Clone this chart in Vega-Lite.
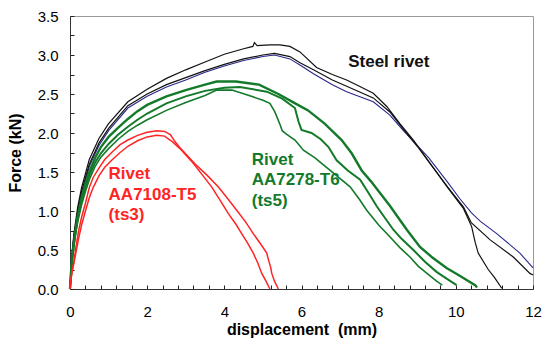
{
"$schema":"https://vega.github.io/schema/vega-lite/v6.json",
"width":463,"height":273,
"autosize":{"type":"none"},
"padding":{"left":70,"top":16,"right":17,"bottom":57},
"config":{"view":{"stroke":"#999999","strokeWidth":1},"font":"Liberation Sans",
"axis":{"grid":false,"domainColor":"#333333","tickColor":"#222222","tickWidth":1,"labelColor":"#000000","labelFont":"Liberation Sans","labelFontSize":15,"titleFont":"Liberation Sans","titleFontSize":16,"titleFontWeight":"bold","titleColor":"#000000","labelFlush":false,"labelOverlap":false}},
"datasets":{
"curves":[
{"c":"R1","g":"red","x":0,"y":0},{"c":"R1","g":"red","x":0.03,"y":0.14},{"c":"R1","g":"red","x":0.06,"y":0.24},{"c":"R1","g":"red","x":0.1,"y":0.33},{"c":"R1","g":"red","x":0.15,"y":0.46},{"c":"R1","g":"red","x":0.22,"y":0.64},{"c":"R1","g":"red","x":0.3,"y":0.82},{"c":"R1","g":"red","x":0.4,"y":1.0},{"c":"R1","g":"red","x":0.5,"y":1.17},{"c":"R1","g":"red","x":0.6,"y":1.3},{"c":"R1","g":"red","x":0.75,"y":1.45},{"c":"R1","g":"red","x":0.9,"y":1.56},{"c":"R1","g":"red","x":1.1,"y":1.66},{"c":"R1","g":"red","x":1.3,"y":1.75},{"c":"R1","g":"red","x":1.5,"y":1.83},{"c":"R1","g":"red","x":1.75,"y":1.9},{"c":"R1","g":"red","x":2.0,"y":1.95},{"c":"R1","g":"red","x":2.25,"y":1.97},{"c":"R1","g":"red","x":2.45,"y":1.96},{"c":"R1","g":"red","x":2.65,"y":1.89},{"c":"R1","g":"red","x":2.85,"y":1.8},{"c":"R1","g":"red","x":3.2,"y":1.61},{"c":"R1","g":"red","x":3.45,"y":1.45},{"c":"R1","g":"red","x":3.67,"y":1.31},{"c":"R1","g":"red","x":3.9,"y":1.13},{"c":"R1","g":"red","x":4.1,"y":0.97},{"c":"R1","g":"red","x":4.3,"y":0.83},{"c":"R1","g":"red","x":4.45,"y":0.71},{"c":"R1","g":"red","x":4.6,"y":0.59},{"c":"R1","g":"red","x":4.75,"y":0.46},{"c":"R1","g":"red","x":4.87,"y":0.33},{"c":"R1","g":"red","x":4.97,"y":0.2},{"c":"R1","g":"red","x":5.08,"y":0.1},{"c":"R1","g":"red","x":5.18,"y":0},
{"c":"R2","g":"red","x":0,"y":0},{"c":"R2","g":"red","x":0.03,"y":0.15},{"c":"R2","g":"red","x":0.06,"y":0.24},{"c":"R2","g":"red","x":0.09,"y":0.32},{"c":"R2","g":"red","x":0.15,"y":0.52},{"c":"R2","g":"red","x":0.22,"y":0.74},{"c":"R2","g":"red","x":0.3,"y":0.92},{"c":"R2","g":"red","x":0.4,"y":1.1},{"c":"R2","g":"red","x":0.5,"y":1.3},{"c":"R2","g":"red","x":0.6,"y":1.43},{"c":"R2","g":"red","x":0.75,"y":1.55},{"c":"R2","g":"red","x":0.9,"y":1.66},{"c":"R2","g":"red","x":1.1,"y":1.76},{"c":"R2","g":"red","x":1.3,"y":1.85},{"c":"R2","g":"red","x":1.5,"y":1.91},{"c":"R2","g":"red","x":1.75,"y":1.97},{"c":"R2","g":"red","x":2.0,"y":2.01},{"c":"R2","g":"red","x":2.25,"y":2.03},{"c":"R2","g":"red","x":2.45,"y":2.02},{"c":"R2","g":"red","x":2.6,"y":1.98},{"c":"R2","g":"red","x":2.72,"y":1.89},{"c":"R2","g":"red","x":2.85,"y":1.81},{"c":"R2","g":"red","x":3.25,"y":1.6},{"c":"R2","g":"red","x":3.55,"y":1.46},{"c":"R2","g":"red","x":3.84,"y":1.31},{"c":"R2","g":"red","x":4.1,"y":1.15},{"c":"R2","g":"red","x":4.32,"y":1.01},{"c":"R2","g":"red","x":4.55,"y":0.86},{"c":"R2","g":"red","x":4.75,"y":0.71},{"c":"R2","g":"red","x":4.95,"y":0.57},{"c":"R2","g":"red","x":5.1,"y":0.46},{"c":"R2","g":"red","x":5.14,"y":0.38},{"c":"R2","g":"red","x":5.2,"y":0.28},{"c":"R2","g":"red","x":5.23,"y":0.2},{"c":"R2","g":"red","x":5.3,"y":0.1},{"c":"R2","g":"red","x":5.4,"y":0},
{"c":"G1","g":"green","x":0,"y":0},{"c":"G1","g":"green","x":0.03,"y":0.25},{"c":"G1","g":"green","x":0.06,"y":0.42},{"c":"G1","g":"green","x":0.1,"y":0.6},{"c":"G1","g":"green","x":0.15,"y":0.78},{"c":"G1","g":"green","x":0.2,"y":0.93},{"c":"G1","g":"green","x":0.3,"y":1.17},{"c":"G1","g":"green","x":0.4,"y":1.35},{"c":"G1","g":"green","x":0.5,"y":1.5},{"c":"G1","g":"green","x":0.65,"y":1.68},{"c":"G1","g":"green","x":0.8,"y":1.82},{"c":"G1","g":"green","x":1.0,"y":1.95},{"c":"G1","g":"green","x":1.25,"y":2.07},{"c":"G1","g":"green","x":1.5,"y":2.18},{"c":"G1","g":"green","x":1.75,"y":2.28},{"c":"G1","g":"green","x":2.0,"y":2.36},{"c":"G1","g":"green","x":2.5,"y":2.47},{"c":"G1","g":"green","x":3.0,"y":2.55},{"c":"G1","g":"green","x":3.5,"y":2.62},{"c":"G1","g":"green","x":3.8,"y":2.66},{"c":"G1","g":"green","x":4.3,"y":2.66},{"c":"G1","g":"green","x":4.9,"y":2.62},{"c":"G1","g":"green","x":5.4,"y":2.5},{"c":"G1","g":"green","x":5.8,"y":2.39},{"c":"G1","g":"green","x":6.17,"y":2.29},{"c":"G1","g":"green","x":6.6,"y":2.12},{"c":"G1","g":"green","x":7.04,"y":1.91},{"c":"G1","g":"green","x":7.3,"y":1.74},{"c":"G1","g":"green","x":7.56,"y":1.52},{"c":"G1","g":"green","x":7.8,"y":1.38},{"c":"G1","g":"green","x":8.05,"y":1.22},{"c":"G1","g":"green","x":8.3,"y":1.06},{"c":"G1","g":"green","x":8.5,"y":0.92},{"c":"G1","g":"green","x":8.73,"y":0.76},{"c":"G1","g":"green","x":9.07,"y":0.54},{"c":"G1","g":"green","x":9.4,"y":0.4},{"c":"G1","g":"green","x":9.76,"y":0.27},{"c":"G1","g":"green","x":10.1,"y":0.17},{"c":"G1","g":"green","x":10.3,"y":0.11},{"c":"G1","g":"green","x":10.5,"y":0.05},{"c":"G1","g":"green","x":10.55,"y":0.02},
{"c":"G2","g":"green","x":0,"y":0},{"c":"G2","g":"green","x":0.03,"y":0.23},{"c":"G2","g":"green","x":0.06,"y":0.4},{"c":"G2","g":"green","x":0.1,"y":0.57},{"c":"G2","g":"green","x":0.15,"y":0.75},{"c":"G2","g":"green","x":0.2,"y":0.9},{"c":"G2","g":"green","x":0.3,"y":1.13},{"c":"G2","g":"green","x":0.4,"y":1.3},{"c":"G2","g":"green","x":0.5,"y":1.45},{"c":"G2","g":"green","x":0.65,"y":1.62},{"c":"G2","g":"green","x":0.8,"y":1.74},{"c":"G2","g":"green","x":1.0,"y":1.86},{"c":"G2","g":"green","x":1.25,"y":1.98},{"c":"G2","g":"green","x":1.5,"y":2.08},{"c":"G2","g":"green","x":1.75,"y":2.17},{"c":"G2","g":"green","x":2.0,"y":2.25},{"c":"G2","g":"green","x":2.5,"y":2.38},{"c":"G2","g":"green","x":3.0,"y":2.47},{"c":"G2","g":"green","x":3.5,"y":2.54},{"c":"G2","g":"green","x":4.0,"y":2.58},{"c":"G2","g":"green","x":4.4,"y":2.59},{"c":"G2","g":"green","x":5.1,"y":2.53},{"c":"G2","g":"green","x":5.5,"y":2.44},{"c":"G2","g":"green","x":5.83,"y":2.32},{"c":"G2","g":"green","x":5.92,"y":2.15},{"c":"G2","g":"green","x":6.0,"y":2.04},{"c":"G2","g":"green","x":6.26,"y":2.0},{"c":"G2","g":"green","x":6.5,"y":1.92},{"c":"G2","g":"green","x":6.7,"y":1.82},{"c":"G2","g":"green","x":6.91,"y":1.65},{"c":"G2","g":"green","x":7.2,"y":1.52},{"c":"G2","g":"green","x":7.52,"y":1.4},{"c":"G2","g":"green","x":7.75,"y":1.22},{"c":"G2","g":"green","x":7.95,"y":1.06},{"c":"G2","g":"green","x":8.15,"y":0.92},{"c":"G2","g":"green","x":8.38,"y":0.76},{"c":"G2","g":"green","x":8.6,"y":0.64},{"c":"G2","g":"green","x":8.9,"y":0.5},{"c":"G2","g":"green","x":9.2,"y":0.35},{"c":"G2","g":"green","x":9.5,"y":0.22},{"c":"G2","g":"green","x":9.8,"y":0.12},{"c":"G2","g":"green","x":10.02,"y":0.05},
{"c":"G3","g":"green","x":0,"y":0},{"c":"G3","g":"green","x":0.03,"y":0.22},{"c":"G3","g":"green","x":0.06,"y":0.38},{"c":"G3","g":"green","x":0.1,"y":0.55},{"c":"G3","g":"green","x":0.15,"y":0.72},{"c":"G3","g":"green","x":0.2,"y":0.86},{"c":"G3","g":"green","x":0.3,"y":1.08},{"c":"G3","g":"green","x":0.4,"y":1.25},{"c":"G3","g":"green","x":0.5,"y":1.4},{"c":"G3","g":"green","x":0.65,"y":1.57},{"c":"G3","g":"green","x":0.8,"y":1.69},{"c":"G3","g":"green","x":1.0,"y":1.8},{"c":"G3","g":"green","x":1.25,"y":1.92},{"c":"G3","g":"green","x":1.5,"y":2.02},{"c":"G3","g":"green","x":1.75,"y":2.1},{"c":"G3","g":"green","x":2.0,"y":2.17},{"c":"G3","g":"green","x":2.5,"y":2.29},{"c":"G3","g":"green","x":3.0,"y":2.39},{"c":"G3","g":"green","x":3.5,"y":2.48},{"c":"G3","g":"green","x":3.8,"y":2.55},{"c":"G3","g":"green","x":4.2,"y":2.55},{"c":"G3","g":"green","x":4.7,"y":2.47},{"c":"G3","g":"green","x":5.0,"y":2.42},{"c":"G3","g":"green","x":5.18,"y":2.38},{"c":"G3","g":"green","x":5.3,"y":2.28},{"c":"G3","g":"green","x":5.36,"y":2.21},{"c":"G3","g":"green","x":5.45,"y":2.1},{"c":"G3","g":"green","x":5.5,"y":2.03},{"c":"G3","g":"green","x":5.6,"y":1.99},{"c":"G3","g":"green","x":5.83,"y":1.91},{"c":"G3","g":"green","x":6.05,"y":1.78},{"c":"G3","g":"green","x":6.35,"y":1.68},{"c":"G3","g":"green","x":6.6,"y":1.58},{"c":"G3","g":"green","x":6.87,"y":1.47},{"c":"G3","g":"green","x":7.26,"y":1.31},{"c":"G3","g":"green","x":7.5,"y":1.15},{"c":"G3","g":"green","x":7.69,"y":1.01},{"c":"G3","g":"green","x":8.0,"y":0.82},{"c":"G3","g":"green","x":8.29,"y":0.67},{"c":"G3","g":"green","x":8.55,"y":0.53},{"c":"G3","g":"green","x":8.81,"y":0.41},{"c":"G3","g":"green","x":9.03,"y":0.29},{"c":"G3","g":"green","x":9.3,"y":0.18},{"c":"G3","g":"green","x":9.5,"y":0.1},{"c":"G3","g":"green","x":9.65,"y":0.05},
{"c":"B1","g":"black","x":0,"y":0},{"c":"B1","g":"black","x":0.05,"y":0.45},{"c":"B1","g":"black","x":0.1,"y":0.7},{"c":"B1","g":"black","x":0.2,"y":1.05},{"c":"B1","g":"black","x":0.3,"y":1.3},{"c":"B1","g":"black","x":0.5,"y":1.66},{"c":"B1","g":"black","x":0.75,"y":1.93},{"c":"B1","g":"black","x":1.0,"y":2.12},{"c":"B1","g":"black","x":1.5,"y":2.4},{"c":"B1","g":"black","x":2.0,"y":2.56},{"c":"B1","g":"black","x":2.5,"y":2.7},{"c":"B1","g":"black","x":3.0,"y":2.81},{"c":"B1","g":"black","x":3.5,"y":2.91},{"c":"B1","g":"black","x":4.0,"y":3.01},{"c":"B1","g":"black","x":4.5,"y":3.08},{"c":"B1","g":"black","x":4.74,"y":3.11},{"c":"B1","g":"black","x":4.78,"y":3.16},{"c":"B1","g":"black","x":4.85,"y":3.12},{"c":"B1","g":"black","x":5.18,"y":3.13},{"c":"B1","g":"black","x":5.44,"y":3.13},{"c":"B1","g":"black","x":5.7,"y":3.11},{"c":"B1","g":"black","x":5.96,"y":3.04},{"c":"B1","g":"black","x":6.39,"y":2.84},{"c":"B1","g":"black","x":6.8,"y":2.75},{"c":"B1","g":"black","x":7.17,"y":2.68},{"c":"B1","g":"black","x":7.5,"y":2.6},{"c":"B1","g":"black","x":7.86,"y":2.51},{"c":"B1","g":"black","x":8.21,"y":2.34},{"c":"B1","g":"black","x":8.55,"y":2.12},{"c":"B1","g":"black","x":8.9,"y":1.91},{"c":"B1","g":"black","x":9.25,"y":1.67},{"c":"B1","g":"black","x":9.76,"y":1.32},{"c":"B1","g":"black","x":10.2,"y":1.03},{"c":"B1","g":"black","x":10.41,"y":0.8},{"c":"B1","g":"black","x":10.5,"y":0.6},{"c":"B1","g":"black","x":10.58,"y":0.46},{"c":"B1","g":"black","x":10.84,"y":0.25},{"c":"B1","g":"black","x":11.0,"y":0.15},{"c":"B1","g":"black","x":11.19,"y":0.01},
{"c":"B2","g":"black","x":0,"y":0},{"c":"B2","g":"black","x":0.05,"y":0.42},{"c":"B2","g":"black","x":0.1,"y":0.67},{"c":"B2","g":"black","x":0.2,"y":1.0},{"c":"B2","g":"black","x":0.3,"y":1.25},{"c":"B2","g":"black","x":0.5,"y":1.6},{"c":"B2","g":"black","x":0.75,"y":1.87},{"c":"B2","g":"black","x":1.0,"y":2.06},{"c":"B2","g":"black","x":1.5,"y":2.35},{"c":"B2","g":"black","x":2.0,"y":2.5},{"c":"B2","g":"black","x":2.5,"y":2.62},{"c":"B2","g":"black","x":3.0,"y":2.71},{"c":"B2","g":"black","x":3.5,"y":2.8},{"c":"B2","g":"black","x":4.0,"y":2.88},{"c":"B2","g":"black","x":4.5,"y":2.95},{"c":"B2","g":"black","x":5.0,"y":3.0},{"c":"B2","g":"black","x":5.3,"y":3.02},{"c":"B2","g":"black","x":5.7,"y":2.98},{"c":"B2","g":"black","x":5.96,"y":2.9},{"c":"B2","g":"black","x":6.31,"y":2.81},{"c":"B2","g":"black","x":6.8,"y":2.68},{"c":"B2","g":"black","x":7.17,"y":2.6},{"c":"B2","g":"black","x":7.86,"y":2.45},{"c":"B2","g":"black","x":8.29,"y":2.27},{"c":"B2","g":"black","x":8.64,"y":2.05},{"c":"B2","g":"black","x":9.0,"y":1.83},{"c":"B2","g":"black","x":9.3,"y":1.63},{"c":"B2","g":"black","x":9.8,"y":1.3},{"c":"B2","g":"black","x":10.2,"y":1.05},{"c":"B2","g":"black","x":10.4,"y":0.85},{"c":"B2","g":"black","x":10.89,"y":0.63},{"c":"B2","g":"black","x":11.49,"y":0.41},{"c":"B2","g":"black","x":11.92,"y":0.2},{"c":"B2","g":"black","x":12,"y":0.18},
{"c":"BL","g":"blue","x":0,"y":0},{"c":"BL","g":"blue","x":0.05,"y":0.4},{"c":"BL","g":"blue","x":0.1,"y":0.65},{"c":"BL","g":"blue","x":0.2,"y":0.98},{"c":"BL","g":"blue","x":0.3,"y":1.22},{"c":"BL","g":"blue","x":0.5,"y":1.57},{"c":"BL","g":"blue","x":0.75,"y":1.84},{"c":"BL","g":"blue","x":1.0,"y":2.03},{"c":"BL","g":"blue","x":1.5,"y":2.32},{"c":"BL","g":"blue","x":2.0,"y":2.47},{"c":"BL","g":"blue","x":2.5,"y":2.59},{"c":"BL","g":"blue","x":3.0,"y":2.68},{"c":"BL","g":"blue","x":3.5,"y":2.78},{"c":"BL","g":"blue","x":4.0,"y":2.86},{"c":"BL","g":"blue","x":4.5,"y":2.93},{"c":"BL","g":"blue","x":5.0,"y":2.98},{"c":"BL","g":"blue","x":5.3,"y":3.0},{"c":"BL","g":"blue","x":5.7,"y":2.95},{"c":"BL","g":"blue","x":6.0,"y":2.86},{"c":"BL","g":"blue","x":6.31,"y":2.76},{"c":"BL","g":"blue","x":6.8,"y":2.62},{"c":"BL","g":"blue","x":7.17,"y":2.53},{"c":"BL","g":"blue","x":7.86,"y":2.4},{"c":"BL","g":"blue","x":8.29,"y":2.23},{"c":"BL","g":"blue","x":8.64,"y":2.03},{"c":"BL","g":"blue","x":9.3,"y":1.68},{"c":"BL","g":"blue","x":9.8,"y":1.36},{"c":"BL","g":"blue","x":10.1,"y":1.16},{"c":"BL","g":"blue","x":10.4,"y":0.98},{"c":"BL","g":"blue","x":10.63,"y":0.87},{"c":"BL","g":"blue","x":11.06,"y":0.71},{"c":"BL","g":"blue","x":11.66,"y":0.46},{"c":"BL","g":"blue","x":12,"y":0.27}
],
"notes":[
{"label":"Steel rivet","g":"black","x":7.21,"y":2.85},
{"label":"Rivet\nAA7108-T5\n(ts3)","g":"red","x":1.0,"y":1.406},
{"label":"Rivet\nAA7278-T6\n(ts5)","g":"green","x":4.71,"y":1.59}
]},
"encoding":{
"x":{"field":"x","type":"quantitative","scale":{"domain":[0,12],"nice":false,"zero":false},
"axis":{"title":"displacement\u00a0 (mm)","values":[0,0.4,0.8,1.2,1.6,2,2.4,2.8,3.2,3.6,4,4.4,4.8,5.2,5.6,6,6.4,6.8,7.2,7.6,8,8.4,8.8,9.2,9.6,10,10.4,10.8,11.2,11.6,12],"labelExpr":"(datum.value % 2 === 0) ? format(datum.value, 'd') : ''","labelOverlap":false,"labelBound":false,"tickSize":-4,"labelPadding":19,"titlePadding":2}},
"y":{"field":"y","type":"quantitative","scale":{"domain":[0,3.5],"nice":false,"zero":false},
"axis":{"title":"Force (kN)","values":[0,0.25,0.5,0.75,1,1.25,1.5,1.75,2,2.25,2.5,2.75,3,3.25,3.5],"labelExpr":"(datum.value % 0.5 === 0) ? format(datum.value, '.1f') : ''","labelOverlap":false,"tickSize":-4,"labelPadding":16,"titlePadding":14}},
"color":{"field":"g","type":"nominal","scale":{"domain":["black","red","green","blue"],"range":["#111111","#ff2424","#137a2a","#28288e"]},"legend":null}
},
"layer":[
{"data":{"name":"curves"},"transform":[{"filter":"datum.g === 'blue'"}],"mark":{"type":"line","strokeWidth":1.1},"encoding":{"detail":{"field":"c"}}},
{"data":{"name":"curves"},"transform":[{"filter":"datum.g === 'black'"}],"mark":{"type":"line","strokeWidth":1.2},"encoding":{"detail":{"field":"c"}}},
{"data":{"name":"curves"},"transform":[{"filter":"datum.g === 'green'"}],"mark":{"type":"line"},"encoding":{"detail":{"field":"c"},"strokeWidth":{"field":"c","type":"ordinal","scale":{"domain":["G1","G2","G3"],"range":[2.4,1.6,1.6]},"legend":null}}},
{"data":{"name":"curves"},"transform":[{"filter":"datum.g === 'red'"}],"mark":{"type":"line","strokeWidth":1.5},"encoding":{"detail":{"field":"c"}}},
{"data":{"name":"notes"},"mark":{"type":"text","align":"left","baseline":"alphabetic","fontSize":17,"fontWeight":"bold","font":"Liberation Sans","lineBreak":"\n","lineHeight":20.5},"encoding":{"text":{"field":"label"}}}
]
}
